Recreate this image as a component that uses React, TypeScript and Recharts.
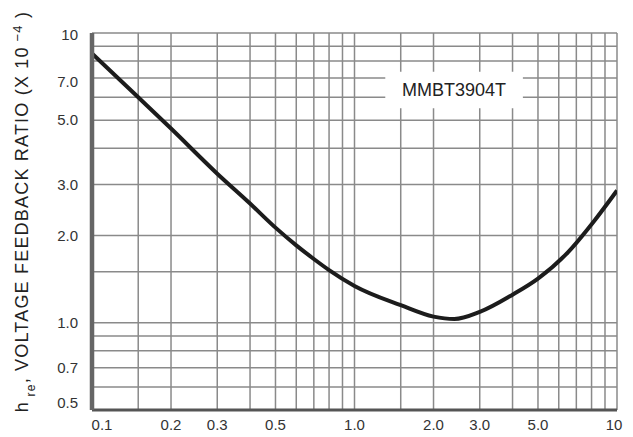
import React from "react";
import {
  LineChart,
  Line,
  XAxis,
  YAxis,
  CartesianGrid,
  ReferenceArea,
  Label,
} from "recharts";

// collector current (mA)
const icValues = [0.1, 0.15, 0.2, 0.3, 0.4, 0.5, 0.6, 0.7, 0.8, 1.0, 1.5, 2.0, 2.4, 3.0, 4.0, 5.0, 6.5, 8.2, 10];
// hre (x 10^-4)
const hreValues = [8.5, 6.0, 4.68, 3.27, 2.58, 2.13, 1.85, 1.66, 1.52, 1.34, 1.15, 1.05, 1.03, 1.09, 1.25, 1.42, 1.75, 2.25, 2.86];

const xGrid = [0.1, 0.15, 0.2, 0.3, 0.4, 0.5, 0.6, 0.7, 0.8, 0.9, 1, 1.5, 2, 3, 4, 5, 6, 7, 8, 9, 10];
const xLabels = [0.1, 0.2, 0.3, 0.5, 1, 2, 3, 5, 10];
const yGrid = [0.5, 0.6, 0.7, 0.8, 0.9, 1, 1.5, 2, 3, 4, 5, 6, 7, 8, 9, 10];
const yLabels = [0.5, 0.7, 1, 2, 3, 5, 7, 10];

const deviceName = "MMBT3904T";

const data = icValues.map((ic, i) => ({ ic, hre: hreValues[i] }));

const fmt = (v: number) => (v >= 10 ? String(v) : v.toFixed(1));

const font = "'Liberation Sans', Arial, sans-serif";

function XTick({ x, y, payload }: any) {
  const v = payload.value;
  if (!xLabels.includes(v)) return null;
  let dx = 0;
  if (v === 0.1) dx = 10;
  if (v === 10) dx = -3;
  return (
    <text x={x + dx} y={y + 20} textAnchor="middle" fill="#333" fontSize={15} fontFamily={font}>
      {fmt(v)}
    </text>
  );
}

function YTick({ x, y, payload }: any) {
  const v = payload.value;
  if (!yLabels.includes(v)) return null;
  const dy = v === 0.5 ? -7 : v === 10 ? 2 : v === 7 ? 4 : 0;
  return (
    <text x={x - 14} y={y + dy + 5} textAnchor="end" fill="#333" fontSize={15} fontFamily={font}>
      {fmt(v)}
    </text>
  );
}

function YTitle({ viewBox }: any) {
  const cx = 28;
  const cy = viewBox.y + viewBox.height / 2 - 10;
  return (
    <text
      x={cx}
      y={cy}
      transform={`rotate(-90 ${cx} ${cy})`}
      textAnchor="middle"
      fill="#222"
      fontSize={18}
      letterSpacing={1.2}
      fontFamily={font}
    >
      <tspan>h</tspan>
      <tspan fontSize={12} dy={7}> re</tspan>
      <tspan dy={-7}>, VOLTAGE FEEDBACK RATIO (X 10</tspan>
      <tspan fontSize={13} dy={-6}> −4</tspan>
      <tspan dy={6}> )</tspan>
    </text>
  );
}

export default function App() {
  return (
    <div style={{ position: "absolute", left: 0, top: 0, background: "#fff" }}>
      <LineChart
        width={633}
        height={437}
        data={data}
        margin={{ top: 33, right: 16, left: 0, bottom: 0 }}
      >
        <CartesianGrid stroke="#8a8a8a" strokeWidth={1.5} />
        <XAxis
          dataKey="ic"
          type="number"
          scale="log"
          domain={[0.1, 10]}
          ticks={xGrid}
          interval={0}
          allowDataOverflow
          height={27}
          tickLine={false}
          tickSize={0}
          tickMargin={0}
          axisLine={{ stroke: "#555", strokeWidth: 3 }}
          tick={<XTick />}
        />
        <YAxis
          type="number"
          scale="log"
          domain={[0.5, 10]}
          ticks={yGrid}
          interval={0}
          allowDataOverflow
          width={92}
          tickLine={false}
          tickSize={0}
          tickMargin={0}
          axisLine={{ stroke: "#666", strokeWidth: 4.5 }}
          tick={<YTick />}
        >
          <Label content={<YTitle />} />
        </YAxis>
        <ReferenceArea
          x1={1.31}
          x2={4.38}
          y1={5.5}
          y2={7.35}
          fill="#fff"
          fillOpacity={1}
          stroke="none"
        >
          <Label value={deviceName} position="center" fill="#222" fontSize={18} fontFamily={font} />
        </ReferenceArea>
        <Line
          type="monotone"
          dataKey="hre"
          stroke="#1c1c1c"
          strokeWidth={4}
          dot={false}
          isAnimationActive={false}
        />
      </LineChart>
    </div>
  );
}
